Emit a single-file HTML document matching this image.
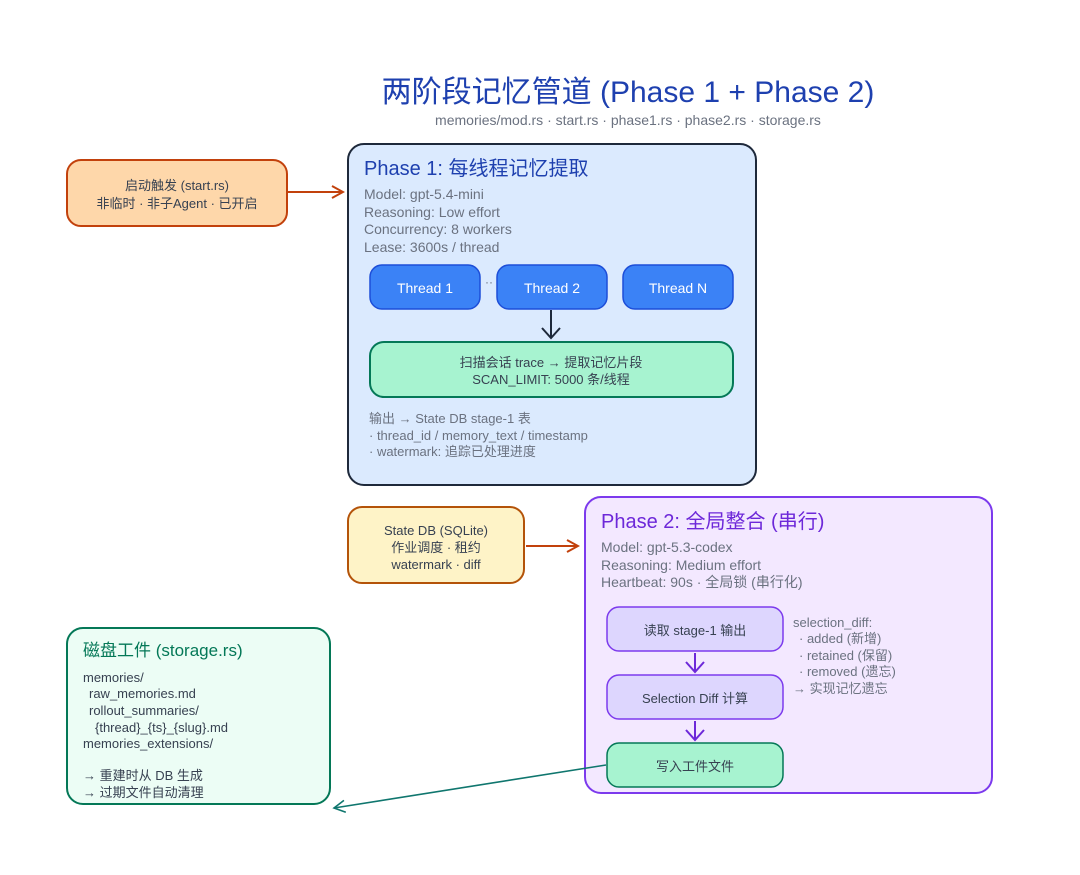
<!DOCTYPE html>
<html><head><meta charset="utf-8"><style>
html,body{margin:0;padding:0;background:#fff;}
svg{display:block;}
text{font-family:"Liberation Sans","Noto Sans CJK SC",sans-serif;}
</style></head><body>
<svg width="1080" height="875" viewBox="0 0 1080 875" xmlns="http://www.w3.org/2000/svg">
<defs>
<marker id="ao" markerWidth="14" markerHeight="14" refX="12" refY="7" orient="auto" markerUnits="userSpaceOnUse"><path d="M1,1 L12,7 L1,13" fill="none" stroke="#c2410c" stroke-width="2"/></marker>
<marker id="ak" markerWidth="14" markerHeight="14" refX="12" refY="7" orient="auto" markerUnits="userSpaceOnUse"><path d="M1,1 L12,7 L1,13" fill="none" stroke="#0f766e" stroke-width="1.6"/></marker>
</defs>

<text x="628" y="102" text-anchor="middle" font-size="30" fill="#1e40af">两阶段记忆管道 (Phase 1 + Phase 2)</text>
<text x="628" y="125" text-anchor="middle" font-size="14" fill="#6b7280">memories/mod.rs · start.rs · phase1.rs · phase2.rs · storage.rs</text>

<rect x="67" y="160" width="220" height="66" rx="14" fill="#fed7aa" stroke="#c2410c" stroke-width="2"/>
<text x="177" y="190" text-anchor="middle" font-size="13" fill="#374151">启动触发 (start.rs)</text>
<text x="177" y="208" text-anchor="middle" font-size="13" fill="#374151">非临时 · 非子Agent · 已开启</text>
<line x1="288" y1="192" x2="343" y2="192" stroke="#c2410c" stroke-width="2" marker-end="url(#ao)"/>

<rect x="348" y="144" width="408" height="341" rx="16" fill="#dbeafe" stroke="#1e293b" stroke-width="2"/>
<text x="364" y="175" font-size="20" fill="#1e40af">Phase 1: 每线程记忆提取</text>
<g font-size="14" fill="#6b7280">
<text x="364" y="199">Model: gpt-5.4-mini</text>
<text x="364" y="217">Reasoning: Low effort</text>
<text x="364" y="234">Concurrency: 8 workers</text>
<text x="364" y="252">Lease: 3600s / thread</text>
</g>
<rect x="370" y="265" width="110" height="44" rx="12" fill="#3b82f6" stroke="#1d4ed8" stroke-width="1.5"/>
<rect x="497" y="265" width="110" height="44" rx="12" fill="#3b82f6" stroke="#1d4ed8" stroke-width="1.5"/>
<rect x="623" y="265" width="110" height="44" rx="12" fill="#3b82f6" stroke="#1d4ed8" stroke-width="1.5"/>
<g font-size="14" fill="#fff" text-anchor="middle">
<text x="425" y="293">Thread 1</text>
<text x="552" y="293">Thread 2</text>
<text x="678" y="293">Thread N</text>
</g>
<text x="489" y="286" text-anchor="middle" font-size="12" fill="#6b7280">··</text>
<line x1="551" y1="310" x2="551" y2="338" stroke="#1e293b" stroke-width="2"/>
<path d="M542,328 L551,338 L560,328" fill="none" stroke="#1e293b" stroke-width="2"/>
<rect x="370" y="342" width="363" height="55" rx="14" fill="#a7f3d0" stroke="#047857" stroke-width="2"/>
<text x="551" y="367" text-anchor="middle" font-size="13" fill="#374151">扫描会话 trace → 提取记忆片段</text>
<text x="551" y="384" text-anchor="middle" font-size="13" fill="#374151">SCAN_LIMIT: 5000 条/线程</text>
<g font-size="13" fill="#6b7280">
<text x="369" y="423">输出 → State DB stage-1 表</text>
<text x="369" y="440">· thread_id / memory_text / timestamp</text>
<text x="369" y="456">· watermark: 追踪已处理进度</text>
</g>

<rect x="348" y="507" width="176" height="76" rx="14" fill="#fef3c7" stroke="#b45309" stroke-width="2"/>
<text x="436" y="535" text-anchor="middle" font-size="13" fill="#374151">State DB (SQLite)</text>
<text x="436" y="552" text-anchor="middle" font-size="13" fill="#374151">作业调度 · 租约</text>
<text x="436" y="569" text-anchor="middle" font-size="13" fill="#374151">watermark · diff</text>
<line x1="526" y1="546" x2="578" y2="546" stroke="#c2410c" stroke-width="2" marker-end="url(#ao)"/>

<rect x="585" y="497" width="407" height="296" rx="16" fill="#f3e8ff" stroke="#7c3aed" stroke-width="2"/>
<text x="601" y="528" font-size="20" fill="#6d28d9">Phase 2: 全局整合 (串行)</text>
<g font-size="14" fill="#6b7280">
<text x="601" y="552">Model: gpt-5.3-codex</text>
<text x="601" y="570">Reasoning: Medium effort</text>
<text x="601" y="587">Heartbeat: 90s · 全局锁 (串行化)</text>
</g>
<rect x="607" y="607" width="176" height="44" rx="12" fill="#ddd6fe" stroke="#7c3aed" stroke-width="1.5"/>
<rect x="607" y="675" width="176" height="44" rx="12" fill="#ddd6fe" stroke="#7c3aed" stroke-width="1.5"/>
<rect x="607" y="743" width="176" height="44" rx="12" fill="#a7f3d0" stroke="#047857" stroke-width="1.5"/>
<g font-size="13" fill="#374151" text-anchor="middle">
<text x="695" y="635">读取 stage-1 输出</text>
<text x="695" y="703">Selection Diff 计算</text>
<text x="695" y="771">写入工件文件</text>
</g>
<line x1="695" y1="653" x2="695" y2="672" stroke="#6d28d9" stroke-width="2"/>
<path d="M686,662 L695,672 L704,662" fill="none" stroke="#6d28d9" stroke-width="2"/>
<line x1="695" y1="721" x2="695" y2="740" stroke="#6d28d9" stroke-width="2"/>
<path d="M686,730 L695,740 L704,730" fill="none" stroke="#6d28d9" stroke-width="2"/>
<g font-size="13" fill="#6b7280">
<text x="793" y="627">selection_diff:</text>
<text x="799" y="643">· added (新增)</text>
<text x="799" y="660">· retained (保留)</text>
<text x="799" y="676">· removed (遗忘)</text>
<text x="793" y="693">→ 实现记忆遗忘</text>
</g>

<rect x="67" y="628" width="263" height="176" rx="16" fill="#ecfdf5" stroke="#047857" stroke-width="2"/>
<text x="83" y="656" font-size="17" fill="#047857">磁盘工件 (storage.rs)</text>
<g font-size="13" fill="#374151">
<text x="83" y="682">memories/</text>
<text x="89" y="698">raw_memories.md</text>
<text x="89" y="715">rollout_summaries/</text>
<text x="95" y="732">{thread}_{ts}_{slug}.md</text>
<text x="83" y="748">memories_extensions/</text>
<text x="83" y="780">→ 重建时从 DB 生成</text>
<text x="83" y="797">→ 过期文件自动清理</text>
</g>
<line x1="606" y1="765" x2="334" y2="808" stroke="#0f766e" stroke-width="1.6" marker-end="url(#ak)"/>
</svg>
</body></html>
